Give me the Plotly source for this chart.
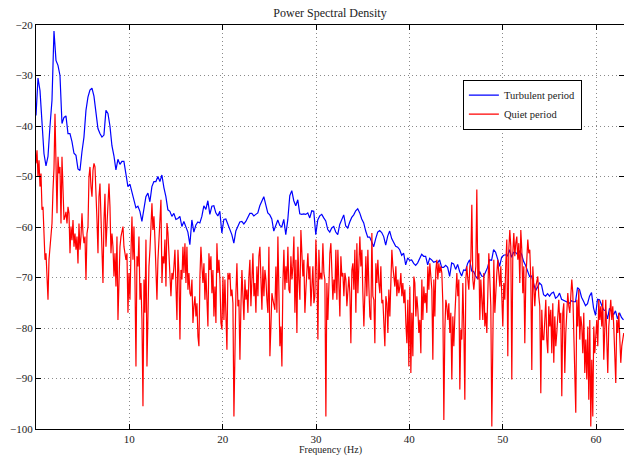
import numpy as np
import plotly.graph_objects as go

# Frequency resolution of each estimate (Hz per bin)
turbulent_df = 0.2141
quiet_df = 0.1071

# PSD of the turbulent period (dB)
turbulent_db = [
    -37.9, -30.5, -33, -38.3, -45.5, -47.9, -46, -40, -34.9, -21.2,
    -27, -28, -30, -39.5, -38.3, -38, -41.5, -41.5, -43.1, -45.4,
    -45.8, -48.5, -48.8, -45.1, -42.2, -36.9, -34.3, -32.9, -32.5, -34.1,
    -37.8, -40.5, -41.5, -42.2, -41.8, -36.9, -37.5, -40, -43.9, -45.9,
    -48.7, -46.6, -47.6, -47, -47, -49.5, -52, -51.5, -53, -55,
    -56.2, -55.9, -56.9, -58.9, -56.3, -54, -53.3, -55, -52, -51,
    -51, -50, -51, -49.7, -52.2, -54, -56.6, -56.9, -57.9, -57.3,
    -58.5, -58.3, -57.9, -59.9, -58.9, -60.2, -61, -63.5, -58.6, -61,
    -59.6, -59, -59.2, -57.9, -55.8, -56.5, -54.8, -57.5, -55.9, -55.8,
    -57.2, -57.8, -56.9, -61.2, -58.5, -58.4, -59.5, -60.2, -61.5, -63.2,
    -60.8, -59.9, -59, -58.9, -59.4, -58.9, -57.9, -57.3, -57.3, -57.8,
    -57.5, -57.2, -55.8, -54.8, -54, -55.6, -57.2, -57.6, -58.4, -60.8,
    -59.6, -58.6, -59.7, -60, -58.5, -61.5, -58.6, -53.8, -52.8, -54.8,
    -55.8, -54.6, -57.4, -57.5, -57.4, -57.5, -57.2, -58.2, -56.8, -56.9,
    -61.5, -58.6, -57.8, -57.5, -58.2, -58.8, -60.5, -61, -60.2, -59.9,
    -61, -61.5, -59.5, -58.7, -57.6, -59.8, -60.2, -59, -58.1, -57.6,
    -56.8, -56.4, -57.2, -58.4, -59.2, -60.8, -62, -62, -63, -63.9,
    -62.3, -61, -60.7, -61.1, -61.9, -63.6, -61.8, -60.8, -62.3, -63.2,
    -63.8, -64, -64.5, -65.6, -65.2, -67.5, -66.1, -66.6, -66.5, -67.2,
    -67.6, -67.1, -66.2, -65.4, -65.8, -65.8, -67.5, -66.2, -66.5, -67,
    -66.8, -67.1, -66.5, -68, -68, -67.6, -68, -69.8, -67.1, -67.3,
    -68.4, -67.4, -68.8, -69.7, -68.5, -68.6, -67.2, -66.5, -68.7, -68.8,
    -69.7, -70.3, -68.8, -69.7, -69.8, -68.9, -68, -66.5, -66.6, -64.5,
    -65, -66.3, -67.8, -66, -65.6, -65.5, -65.7, -64.5, -66, -65,
    -65, -65.5, -64.8, -65.4, -66.8, -67.6, -68.9, -69.8, -69.7, -71,
    -72.6, -71.9, -71.1, -71.5, -73.4, -73.7, -73.2, -73.7, -73.1, -72.9,
    -74.1, -73.8, -73.1, -74.3, -74.5, -74.7, -75, -75.1, -74.6, -74.8,
    -74.8, -72, -72.4, -73.9, -74.7, -75.6, -75.2, -73.7, -73, -76,
    -77.5, -74.3, -74.4, -75.3, -76.4, -76.6, -78.2, -76.1, -76.8, -77.4,
    -76.6, -78.2, -77, -77.9, -78.4,
]

# PSD of the quiet period (dB)
quiet_db = [
    -47.4, -44.8, -50.1, -46.8, -52, -49.4, -56.6, -56, -61.3, -66.5,
    -65.2, -72.4, -74.4, -66.5, -63.9, -61.9, -59.3, -52.7, -48.4, -37.6,
    -46.8, -57.3, -46.1, -49.4, -48.1, -59.3, -46.1, -54, -58.6, -58,
    -57, -59.3, -56, -57.3, -65.2, -59.9, -62.6, -58.6, -63.9, -61.3,
    -64.5, -61.9, -67.2, -59.3, -64.5, -61.9, -57.3, -61.3, -63.2, -61.9,
    -70.5, -61.3, -59.9, -50.1, -48.1, -52, -54, -48.8, -47.4, -48.1,
    -52, -58.6, -65.2, -54, -51.4, -58.6, -65.2, -71.1, -58.6, -53.4,
    -63.9, -58.6, -55.3, -51.4, -56, -65.2, -61.3, -63.9, -69.8, -65.2,
    -71.8, -61.9, -78.4, -69.8, -63.9, -61.9, -60.6, -59.9, -63.9, -65.2,
    -66.5, -65.2, -77, -69.1, -74.4, -65.2, -57.9, -66.5, -59.9, -70.4,
    -87.6, -65.8, -67.8, -61.9, -74.4, -71.1, -78.4, -95.5, -70.4, -77,
    -62.5, -87.6, -73.7, -67.8, -64.5, -59.9, -55.3, -60.6, -57.9, -62.5,
    -67.8, -74.4, -66.5, -63.2, -58.6, -54.6, -71.1, -65.8, -67.2, -62.5,
    -71.8, -59.2, -61.2, -65.2, -67.8, -73.7, -69.1, -70.4, -67.8, -64.5,
    -71.8, -78.4, -64.5, -69.1, -82.3, -68.5, -70.4, -63.9, -69.1, -63.2,
    -71.1, -63.9, -72.4, -69.1, -73.1, -73.7, -70.4, -79, -75.7, -73.7,
    -77.7, -75.1, -81.7, -83.6, -69.8, -63.9, -67.8, -71.1, -67.2, -74.4,
    -69.1, -77, -79.7, -65.2, -68.5, -65.8, -73.1, -68.5, -77.7, -71.8,
    -79, -63.2, -69.1, -66.5, -70.4, -79, -80.3, -69.8, -78.4, -70.4,
    -75.7, -84.3, -69.1, -70.4, -69.1, -73.7, -72.4, -75.1, -97.5, -79,
    -73.1, -67.2, -75.7, -74.4, -86.3, -75.7, -68.5, -73.7, -78.4, -70.4,
    -74.4, -72.4, -77, -69.8, -66.5, -75.7, -71.1, -65.2, -73.7, -71.1,
    -77, -67.8, -73.7, -65.8, -63.9, -71.8, -76.4, -67.8, -73.7, -68.5,
    -70.4, -74.4, -77, -63.9, -85.6, -79.7, -73.1, -74.4, -75.7, -76.4,
    -67.8, -77, -61.9, -74.4, -83.6, -79.7, -87.6, -71.1, -64.5, -72.4,
    -67.8, -71.1, -63.9, -72.4, -73.1, -65.8, -70.4, -67.8, -61.9, -77,
    -66.5, -81, -63.9, -70.4, -74.4, -60.6, -67.8, -69.8, -66.5, -77,
    -72.4, -69.1, -65.2, -70.4, -67.8, -75.7, -71.8, -67.8, -75.1, -73.7,
    -62.5, -68.5, -82.3, -64.5, -70.4, -69.1, -70.4, -63.2, -69.1, -70.4,
    -97.5, -71.1, -78.4, -70.4, -65.2, -63.2, -69.8, -74.4, -70.4, -73.1,
    -64.5, -74.4, -64.5, -71.8, -77.7, -65.8, -69.8, -69.1, -73.7, -69.1,
    -70.4, -75.7, -71.8, -69.8, -73.1, -83, -68.5, -67.2, -72.4, -64.5,
    -77, -63.2, -73.1, -65.8, -61.9, -67.8, -64.5, -73.1, -79.7, -73.1,
    -65.8, -73.7, -64.5, -71.8, -77.7, -78.4, -61.2, -73.7, -74.4, -83,
    -67.2, -71.1, -66.5, -71.1, -73.1, -67.8, -75.1, -74.4, -79.7, -83.6,
    -73.7, -75.1, -81, -72.4, -77.7, -70.4, -64.5, -67.8, -69.8, -71.8,
    -67.8, -73.7, -70.4, -73.1, -71.8, -69.1, -73.7, -71.1, -75.1, -72.4,
    -79, -83, -74.4, -87.6, -71.8, -88.9, -77, -85.6, -69.8, -71.1,
    -77.7, -73.7, -76.4, -81, -78.4, -85, -70.4, -78.4, -71.8, -75.1,
    -73.1, -77, -67.8, -72.4, -67.2, -69.1, -72.4, -86.3, -70.4, -77.7,
    -68.5, -66.5, -70.4, -67.2, -69.1, -67.8, -69.1, -75.1, -98.2, -80.3,
    -74.4, -75.7, -78.4, -75.1, -81, -77, -90.2, -77.7, -83.6, -77.7,
    -73.1, -69.1, -73.7, -70.4, -92.2, -80.3, -82.3, -71.1, -79.7, -94.2,
    -70.4, -67.8, -70.4, -72.4, -67.8, -66.5, -55.6, -70.4, -72.4, -69.1,
    -67.8, -52.6, -70.4, -65.2, -78.4, -70.4, -74.4, -78.4, -69.1, -79.7,
    -77, -81, -73.1, -65.2, -70.4, -75.7, -99.5, -79.7, -66.5, -77,
    -71.8, -69.1, -66.5, -68.5, -71.8, -67.8, -74.4, -79.7, -71.1, -74.4,
    -67.2, -62.5, -85.6, -64.5, -60.6, -63.9, -90.2, -65.2, -61.2, -65.8,
    -63.2, -61.9, -66.5, -63.2, -71.1, -60.6, -64.5, -73.1, -67.8, -83,
    -70.4, -64.5, -62.5, -65.2, -64.5, -70.4, -88.3, -67.8, -71.8, -75.7,
    -71.8, -70.4, -69.8, -73.7, -75.7, -92.9, -76.4, -82.3, -82.3, -78.4,
    -74.4, -82.3, -85, -75.7, -79.7, -76.4, -85, -75.1, -86.9, -77.7,
    -83.6, -81, -78.4, -74.4, -79, -77, -93.5, -77, -75.1, -88.9,
    -81, -76.4, -73.1, -75.7, -77, -73.7, -70.4, -73.1, -81.7, -85,
    -96.8, -74.4, -79.7, -72.4, -82.3, -77.7, -79.7, -85, -77, -88.9,
    -82.3, -90.2, -79.7, -94.2, -78.4, -99.5, -86.3, -97.5, -79.7, -85,
    -81, -78.4, -83.6, -74.4, -78.4, -75.7, -79.7, -74.4, -86.3, -77,
    -74.4, -82.3, -88.9, -79.7, -77, -74.4, -78.4, -75.7, -79.7, -85,
    -90.9, -78.4, -81, -77, -82.3, -86.9, -83.6, -81.7, -81,
]

x_ticks = [10, 20, 30, 40, 50, 60]
y_ticks = [-100, -90, -80, -70, -60, -50, -40, -30, -20]

freq_turb = np.arange(len(turbulent_db)) * turbulent_df
freq_quiet = np.arange(len(quiet_db)) * quiet_df

serif = "Liberation Serif, Times New Roman, serif"

fig = go.Figure()
fig.add_trace(go.Scatter(
    x=freq_turb, y=turbulent_db, mode="lines", name="Turbulent period",
    line=dict(color="#0000ff", width=1.2),
))
fig.add_trace(go.Scatter(
    x=freq_quiet, y=quiet_db, mode="lines", name="Quiet period",
    line=dict(color="#ff0000", width=1.2),
))

axis_common = dict(
    showline=True, linecolor="black", linewidth=1, mirror="ticks",
    ticks="inside", ticklen=5, tickcolor="black", tickwidth=1,
    showgrid=True, gridcolor="#8a8a8a", griddash="1px,3px", gridwidth=1,
    zeroline=False, tickfont=dict(family=serif, size=11, color="#222"),
)

fig.update_layout(
    width=624, height=456,
    margin=dict(l=36, r=0, t=25, b=27),
    paper_bgcolor="white", plot_bgcolor="white",
    title=dict(text="Power Spectral Density", x=(36 + 624) / 2 / 624, xanchor="center",
               y=1 - 13 / 456, yanchor="middle", yref="container",
               font=dict(family=serif, size=12, color="#222")),
    xaxis=dict(range=[0, 63], tickvals=x_ticks, **axis_common),
    yaxis=dict(range=[-100, -20], tickvals=y_ticks, **axis_common),
    showlegend=True,
    legend=dict(x=0.726, y=0.865, xanchor="left", yanchor="top",
                bgcolor="white", bordercolor="black", borderwidth=1,
                font=dict(family=serif, size=10.5, color="#222"),
                itemwidth=30, tracegroupgap=0),
    annotations=[dict(text="Frequency (Hz)", xref="paper", yref="paper",
                      x=0.5, y=-0.052, xanchor="center", yanchor="middle",
                      showarrow=False, font=dict(family=serif, size=10, color="#222"))],
)

fig.write_html("out.html")
